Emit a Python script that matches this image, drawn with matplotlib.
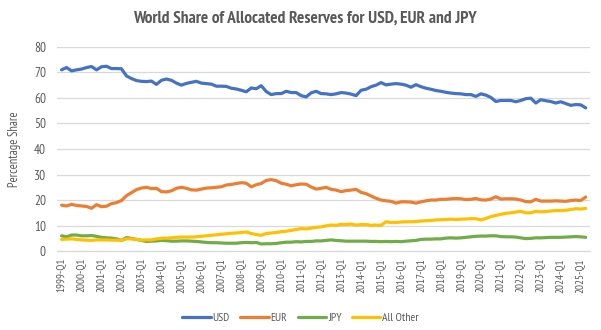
import matplotlib
matplotlib.use("Agg")
import matplotlib.pyplot as plt
from matplotlib import font_manager

# ---------------- data ----------------
years = list(range(1999, 2026))
quarters = [f"{y}-Q{q}" for y in range(1999, 2026) for q in (1, 2, 3, 4)][:106]  # 1999-Q1 .. 2025-Q2
tick_labels = [f"{y}-Q1" for y in years]

usd = [71.0, 71.9, 70.6, 71.0, 71.3, 71.9, 72.3, 71.0, 72.2, 72.4,
       71.5, 71.5, 71.4, 68.6, 67.6, 66.8, 66.5, 66.4, 66.6, 65.3,
       66.9, 67.4, 66.9, 65.8, 65.0, 65.7, 66.1, 66.5, 65.8, 65.6,
       65.4, 64.6, 64.6, 64.5, 63.8, 63.5, 63.0, 62.4, 63.9, 63.6,
       64.8, 62.5, 61.3, 61.7, 61.7, 62.6, 62.1, 62.1, 60.9, 60.4,
       62.0, 62.6, 61.7, 61.6, 61.3, 61.6, 62.1, 61.9, 61.5, 60.9,
       63.0, 63.4, 64.4, 65.0, 66.0, 65.1, 65.4, 65.6, 65.4, 65.0,
       64.2, 65.2, 64.4, 63.8, 63.4, 62.9, 62.6, 62.2, 61.9, 61.7,
       61.6, 61.3, 61.3, 60.6, 61.6, 61.1, 60.2, 58.6, 59.0, 59.0,
       59.0, 58.5, 59.0, 59.7, 59.9, 58.0, 59.3, 58.9, 58.6, 58.0,
       58.5, 57.8, 57.1, 57.4, 57.3, 56.1]

eur = [18.0, 17.7, 18.3, 17.9, 17.7, 17.5, 16.8, 18.2, 17.4, 17.6,
       18.6, 19.0, 19.8, 21.7, 22.9, 24.1, 24.7, 25.0, 24.5, 24.6,
       23.3, 23.2, 23.6, 24.6, 25.0, 24.6, 24.0, 23.9, 24.3, 24.7,
       24.8, 25.0, 25.2, 25.9, 26.1, 26.5, 26.8, 26.6, 25.2, 26.0,
       26.5, 27.7, 28.0, 27.6, 26.6, 26.2, 25.6, 26.0, 26.3, 26.2,
       25.1, 24.3, 24.6, 25.0, 24.2, 23.9, 23.3, 23.7, 23.9, 24.2,
       23.0, 22.5, 21.6, 20.7, 20.0, 19.7, 19.5, 18.8, 19.3, 19.3,
       19.2, 18.8, 19.3, 19.7, 20.0, 20.0, 20.3, 20.3, 20.5, 20.6,
       20.5, 20.2, 20.3, 20.6, 20.1, 20.0, 20.4, 21.3, 20.4, 20.5,
       20.5, 20.4, 20.0, 19.4, 19.3, 20.3, 19.6, 19.6, 19.6, 19.7,
       19.6, 19.5, 19.8, 20.0, 19.8, 21.2]

jpy = [6.0, 5.6, 6.3, 6.3, 6.0, 6.0, 6.1, 5.8, 5.4, 5.2,
       5.1, 4.8, 4.2, 5.3, 5.0, 4.6, 4.2, 3.8, 3.9, 4.0,
       4.2, 4.1, 3.9, 3.9, 4.0, 4.0, 3.9, 3.8, 3.6, 3.4,
       3.3, 3.3, 3.2, 3.1, 3.1, 3.1, 3.3, 3.4, 3.3, 3.4,
       2.8, 2.9, 2.9, 3.0, 3.3, 3.5, 3.5, 3.7, 3.6, 3.8,
       3.8, 4.0, 4.0, 4.2, 4.4, 4.2, 4.05, 3.9, 3.9, 3.9,
       3.9, 3.9, 3.8, 3.8, 3.7, 3.8, 3.7, 3.8, 3.7, 3.9,
       4.05, 4.2, 4.6, 4.7, 4.7, 4.8, 4.8, 5.1, 5.2, 5.1,
       5.2, 5.4, 5.6, 5.8, 5.9, 5.9, 6.0, 6.0, 5.7, 5.6,
       5.6, 5.5, 5.2, 4.9, 5.0, 5.2, 5.2, 5.3, 5.4, 5.4,
       5.4, 5.5, 5.6, 5.7, 5.6, 5.4]

other = [4.6, 4.7, 4.8, 4.6, 4.4, 4.3, 4.2, 4.4, 4.4, 4.4,
         4.3, 4.3, 4.2, 4.8, 4.8, 4.6, 4.3, 4.4, 4.4, 4.8,
         5.0, 5.1, 5.2, 5.4, 5.5, 5.5, 5.5, 5.6, 5.8, 6.0,
         6.2, 6.4, 6.6, 6.8, 7.0, 7.1, 7.3, 7.5, 6.9, 6.5,
         6.2, 6.9, 7.1, 7.3, 7.6, 7.8, 8.1, 8.5, 8.8, 8.7,
         9.0, 9.3, 9.5, 9.9, 10.2, 10.1, 10.5, 10.4, 10.6, 10.2,
         10.4, 10.4, 10.1, 10.2, 10.1, 11.5, 11.2, 11.2, 11.4, 11.5,
         11.5, 11.6, 11.8, 11.9, 12.0, 12.2, 12.3, 12.4, 12.5, 12.4,
         12.5, 12.6, 12.7, 12.7, 12.2, 12.8, 13.5, 14.0, 14.4, 14.8,
         15.0, 15.3, 15.6, 15.0, 15.0, 15.6, 15.4, 15.5, 15.7, 15.9,
         15.9, 16.0, 16.3, 16.6, 16.5, 16.7]

series_names = ["USD", "EUR", "JPY", "All Other"]
series_values = [usd, eur, jpy, other]
colors = ["#4472C4", "#ED7D31", "#70AD47", "#FFC000"]

# ---------------- style ----------------
installed = {f.name for f in font_manager.fontManager.ttflist}
prefs = ["PT Sans Narrow", "Archivo Narrow", "Asap Condensed", "Barlow Semi Condensed"]
fam = [p for p in prefs if p in installed][:1]
plt.rcParams["font.family"] = fam + ["DejaVu Sans"]
text_color = "#595959"
grid_color = "#D9D9D9"

fig = plt.figure(figsize=(6.01, 3.30), dpi=100)
ax = fig.add_axes([0.095, 0.239, 0.887, 0.619])

x = list(range(len(quarters)))
for name, vals, c in zip(series_names, series_values, colors):
    ax.plot(x, vals, color=c, lw=2.3, label=name, solid_capstyle="round", zorder=3)

ax.set_ylim(0, 80)
ax.set_yticks(range(0, 81, 10))
ax.set_xlim(-0.9, len(quarters) - 0.1)
tick_pos = [quarters.index(t) for t in tick_labels]
ax.set_xticks(tick_pos)
ax.set_xticklabels(tick_labels, rotation=90, fontsize=8, color=text_color)
ax.tick_params(axis="y", labelsize=9.5, colors=text_color, length=0, pad=8)
ax.tick_params(axis="x", length=0, pad=5)

ax.grid(axis="y", color=grid_color, lw=0.9, zorder=0)
for s in ("top", "right", "left"):
    ax.spines[s].set_visible(False)
ax.spines["bottom"].set_color(grid_color)
ax.spines["bottom"].set_linewidth(0.9)

ax.set_ylabel("Percentage Share", fontsize=9, color=text_color, labelpad=9)

fig.text(0.508, 0.945, "World Share of Allocated Reserves for USD, EUR and JPY",
         ha="center", va="center", fontsize=12.5, fontweight="bold", color=text_color)

leg = fig.legend(loc="center", bbox_to_anchor=(0.5, 0.037), ncol=4, frameon=False,
                 fontsize=8.5, handlelength=2.4, handletextpad=0.15, columnspacing=0.9)
for t in leg.get_texts():
    t.set_color(text_color)

fig.savefig("out.png", dpi=100)
